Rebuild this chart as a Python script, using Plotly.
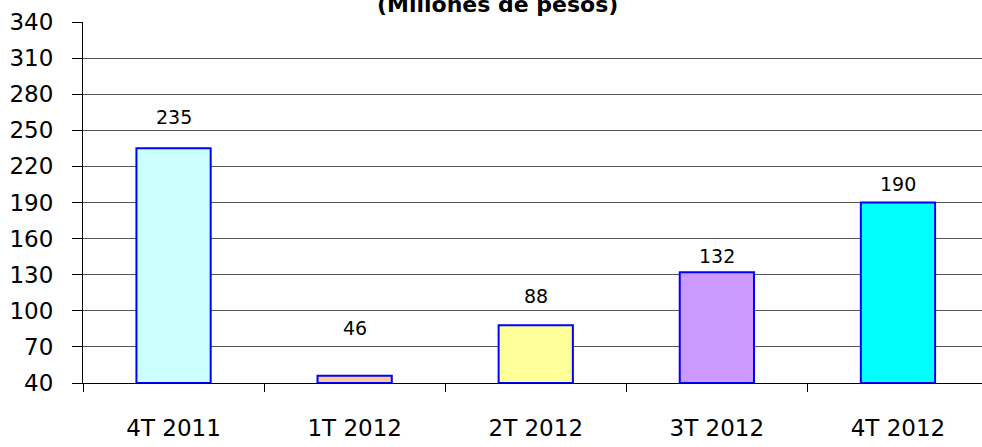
import plotly.graph_objects as go

categories = ["4T 2011", "1T 2012", "2T 2012", "3T 2012", "4T 2012"]
values = [235, 46, 88, 132, 190]
bar_colors = ["#CCFFFF", "#FFCC99", "#FFFF99", "#CC99FF", "#00FFFF"]
y_ticks = [40, 70, 100, 130, 160, 190, 220, 250, 280, 310, 340]
title_text = "(Millones de pesos)"

# style: vertical offset (px) of each value label above its bar
label_shift = [31, 48, 29, 16, 19]

FONT = "DejaVu Sans"

fig = go.Figure()
fig.add_trace(go.Bar(
    x=categories,
    y=[v - 40 for v in values],
    base=40,
    marker=dict(color=bar_colors, line=dict(color="#0000FF", width=2)),
    hoverinfo="skip",
))

for c, v, s in zip(categories, values, label_shift):
    fig.add_annotation(x=c, y=v, text=str(v), showarrow=False,
                       xref="x", yref="y", yanchor="middle", yshift=s,
                       font=dict(family=FONT, size=19, color="#000000"))

fig.add_annotation(x=0.4613, y=1.048, xref="paper", yref="paper",
                   text="<b>" + title_text + "</b>", showarrow=False,
                   xanchor="center", yanchor="middle",
                   font=dict(family=FONT, size=22, color="#000000"))

fig.update_layout(
    width=982, height=447,
    margin=dict(l=83, r=0, t=22, b=64, autoexpand=False),
    paper_bgcolor="white", plot_bgcolor="white",
    bargap=0.59,
    showlegend=False,
    font=dict(family=FONT, color="#000000"),
)
fig.update_xaxes(
    type="category",
    range=[-0.5, 4.464],
    automargin=False,
    tickson="boundaries",
    ticks="outside", ticklen=8, tickcolor="#000000",
    showline=True, linecolor="#000000", linewidth=1,
    showgrid=False,
    tickfont=dict(family=FONT, size=23, color="#000000"),
    ticklabelstandoff=24,
)
fig.update_yaxes(
    range=[40, 340],
    tickvals=y_ticks,
    automargin=False,
    ticks="outside", ticklen=10, tickcolor="#000000",
    showline=True, linecolor="#000000", linewidth=1,
    showgrid=True, gridcolor="#555555", gridwidth=1,
    zeroline=False,
    tickfont=dict(family=FONT, size=23, color="#000000"),
    ticklabelstandoff=14,
)

fig.write_html(
    "out.html",
    config={"displayModeBar": False},
    post_script="document.body.style.margin='0';document.body.style.overflow='hidden';",
)
